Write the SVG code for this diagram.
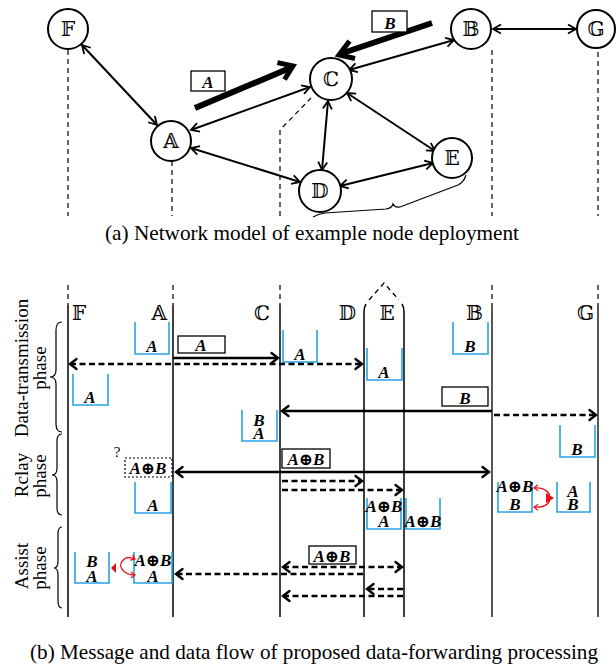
<svg xmlns="http://www.w3.org/2000/svg" width="616" height="670" viewBox="0 0 616 670">
<style>
.nc{fill:#fff;stroke:#000;stroke-width:2}
.nl{font-family:"DejaVu Serif","DejaVu Sans",serif;font-size:20px;text-anchor:middle;fill:#000}
.ll{font-family:"DejaVu Serif","DejaVu Sans",serif;font-size:20px;fill:#000}
.dl{stroke:#000;stroke-width:1.2;stroke-dasharray:5,4;fill:none}
.e{stroke:#000;stroke-width:2;fill:none;marker-start:url(#ah);marker-end:url(#ah)}
.thick{stroke:#000;stroke-width:6;fill:none}
.chev{stroke:#000;stroke-width:5;fill:none;stroke-linejoin:miter}
.lb{fill:#fff;stroke:#000;stroke-width:1.3}
.bi{font-family:"Liberation Serif","DejaVu Serif",serif;font-size:17px;font-weight:bold;font-style:italic;text-anchor:middle;fill:#000}
.cap{font-family:"Liberation Serif","Times New Roman",serif;font-size:21px;text-anchor:middle;fill:#000}
.ph{font-family:"Liberation Serif","Times New Roman",serif;font-size:19px;text-anchor:middle;fill:#000}
.life{stroke:#000;stroke-width:1.5;fill:none}
.lifeg{stroke:#444;stroke-width:1.8;fill:none}
.buf{stroke:#27a3e3;stroke-width:1.6;fill:none}
.sa{stroke:#000;stroke-width:2.5;fill:none}
.da{stroke:#000;stroke-width:2.5;fill:none;stroke-dasharray:6,3.5}
.brace{stroke:#000;stroke-width:1.2;fill:none}
.red{stroke:#e8101a;stroke-width:1.4;fill:none;marker-start:url(#ahr);marker-end:url(#ahr)}
</style>
<defs>
<marker id="ah" viewBox="-10 -6 12 12" refX="0" refY="0" markerWidth="12" markerHeight="12" markerUnits="userSpaceOnUse" orient="auto-start-reverse"><path d="M-8,-4.5 L0,0 L-8,4.5" fill="none" stroke="#000" stroke-width="1.8" stroke-dasharray="none"/></marker>
<marker id="ahb" viewBox="-10 -7 12 14" refX="0" refY="0" markerWidth="12" markerHeight="14" markerUnits="userSpaceOnUse" orient="auto-start-reverse"><path d="M-6.5,-5 L0,0 L-6.5,5" fill="none" stroke="#000" stroke-width="2.4" stroke-dasharray="none" stroke-linecap="round"/></marker>
<marker id="ahr" viewBox="-6 -4 8 8" refX="0" refY="0" markerWidth="8" markerHeight="8" markerUnits="userSpaceOnUse" orient="auto-start-reverse"><path d="M-4,-3 L0,0 L-4,3" fill="none" stroke="#e8101a" stroke-width="1.2" stroke-dasharray="none"/></marker>
</defs>
<rect width="616" height="670" fill="#fff"/>

<!-- ===== (a) network model ===== -->
<g id="a-dashed">
<line class="dl" x1="68" y1="50" x2="68" y2="216"/>
<line class="dl" x1="172" y1="161" x2="172" y2="216"/>
<polyline class="dl" points="280,216 280,130 311,98"/>
<line class="dl" x1="492" y1="50" x2="492" y2="216"/>
<line class="dl" x1="598" y1="52" x2="598" y2="216"/>
<path class="brace" d="M313,217 Q318,214 325,213 L386,209 Q392,208 393,204 Q395,208 400,207 L458,185 Q464,182 466,175"/>
</g>
<g id="a-connectors">
<line class="e" x1="82" y1="45" x2="157" y2="125"/>
<line class="e" x1="191" y1="130" x2="310" y2="87"/>
<line class="e" x1="349" y1="70" x2="454" y2="40"/>
<line class="e" x1="493" y1="29" x2="576" y2="29"/>
<line class="e" x1="328" y1="101" x2="322" y2="170"/>
<line class="e" x1="347" y1="93" x2="435" y2="151"/>
<line class="e" x1="191" y1="148" x2="300" y2="182"/>
<line class="e" x1="340" y1="186" x2="433" y2="163"/>
<line class="thick" x1="195" y1="108" x2="290" y2="68"/>
<polyline class="chev" points="277.4,62.6 293,66 284.5,79.5"/>
<line class="thick" x1="432" y1="23" x2="343" y2="53"/>
<polyline class="chev" points="349.5,41 339,55 355,58.5"/>
</g>
<g id="a-labels">
<rect class="lb" x="191" y="71" width="34" height="20"/>
<text class="bi" x="208" y="88">A</text>
<rect class="lb" x="372" y="11" width="35" height="21"/>
<text class="bi" x="390" y="29">B</text>
</g>
<g id="node-F"><circle class="nc" cx="68" cy="29" r="20"/><text class="nl" x="68" y="36">𝔽</text></g>
<g id="node-A"><circle class="nc" cx="171" cy="141" r="20"/><text class="nl" x="171" y="148">𝔸</text></g>
<g id="node-C"><circle class="nc" cx="331" cy="79" r="21"/><text class="nl" x="331" y="86">ℂ</text></g>
<g id="node-B"><circle class="nc" cx="471" cy="29" r="20"/><text class="nl" x="471" y="36">𝔹</text></g>
<g id="node-G"><circle class="nc" cx="596" cy="29" r="19"/><text class="nl" x="596" y="36">𝔾</text></g>
<g id="node-E"><circle class="nc" cx="452" cy="158" r="20"/><text class="nl" x="452" y="165">𝔼</text></g>
<g id="node-D"><circle class="nc" cx="320" cy="191" r="21"/><text class="nl" x="320" y="198">𝔻</text></g>
<text class="cap" x="312" y="240" textLength="414" lengthAdjust="spacingAndGlyphs">(a) Network model of example node deployment</text>

<!-- ===== (b) message flow ===== -->
<g id="lifelines">
<line class="dl" x1="68" y1="285" x2="68" y2="305"/><line class="life" x1="68" y1="305" x2="68" y2="617"/>
<line class="dl" x1="173" y1="285" x2="173" y2="305"/><line class="life" x1="173" y1="305" x2="173" y2="617"/>
<line class="dl" x1="280" y1="285" x2="280" y2="305"/><line class="life" x1="280" y1="305" x2="280" y2="617"/>
<path class="life" d="M364,617 L364,312 Q364,307 366,304"/>
<path class="life" d="M404,617 L404,312 Q404,307 402,304"/>
<polyline class="dl" points="369,300 384,283 399,300"/>
<line class="dl" x1="492" y1="285" x2="492" y2="305"/><line class="lifeg" x1="492" y1="305" x2="492" y2="617"/>
<line class="dl" x1="598" y1="285" x2="598" y2="305"/><line class="lifeg" x1="598" y1="305" x2="598" y2="617"/>
<text class="ll" x="72" y="320">𝔽</text>
<text class="ll" x="167" y="320" text-anchor="end">𝔸</text>
<text class="ll" x="270" y="320" text-anchor="end">ℂ</text>
<text class="ll" x="356" y="320" text-anchor="end">𝔻</text>
<text class="ll" x="387" y="320" text-anchor="middle">𝔼</text>
<text class="ll" x="483" y="320" text-anchor="end">𝔹</text>
<text class="ll" x="594" y="320" text-anchor="end">𝔾</text>
</g>
<g id="phases">
<path class="brace" d="M62,322 Q56,322 56,330 L56,370 Q56,377 50,377 Q56,377 56,384 L56,424 Q56,432 62,432"/>
<path class="brace" d="M62,434 Q57,434 57,441 L57,468 Q57,475 52,475 Q57,475 57,482 L57,508 Q57,515 62,515"/>
<path class="brace" d="M62,527 Q58,527 58,534 L58,561 Q58,568 54,568 Q58,568 58,575 L58,601 Q58,608 62,608"/>
<text class="ph" transform="translate(28,368) rotate(-90)">Data-transmission</text>
<text class="ph" transform="translate(46,368) rotate(-90)">phase</text>
<text class="ph" transform="translate(28,475) rotate(-90)">Rclay</text>
<text class="ph" transform="translate(46,476) rotate(-90)">phase</text>
<text class="ph" transform="translate(28,566) rotate(-90)">Assist</text>
<text class="ph" transform="translate(46,568) rotate(-90)">phase</text>
</g>
<g id="buffers">
<polyline class="buf" points="135,322 135,354 169,354 169,322"/><text class="bi" x="152" y="352">A</text>
<polyline class="buf" points="283,330 283,362 317,362 317,330"/><text class="bi" x="300" y="360">A</text>
<polyline class="buf" points="367,348 367,380 402,380 402,348"/><text class="bi" x="384" y="378">A</text>
<polyline class="buf" points="453,322 453,354 488,354 488,322"/><text class="bi" x="470" y="352">B</text>
<polyline class="buf" points="73,374 73,405 108,405 108,374"/><text class="bi" x="90" y="403">A</text>
<polyline class="buf" points="242,410 242,441 277,441 277,410"/><text class="bi" x="259" y="426">B</text><text class="bi" x="259" y="439">A</text>
<polyline class="buf" points="560,425 560,457 595,457 595,425"/><text class="bi" x="577" y="455">B</text>
<polyline class="buf" points="135,482 135,513 171,513 171,482"/><text class="bi" x="153" y="511">A</text>
<polyline class="buf" points="367,498 367,529 401,529 401,498"/><text class="bi" x="384" y="512">A⊕B</text><text class="bi" x="384" y="527">A</text>
<polyline class="buf" points="406,498 406,529 440,529 440,498"/><text class="bi" x="423" y="527">A⊕B</text>
<polyline class="buf" points="498,482 498,512 532,512 532,482"/><text class="bi" x="515" y="492">A⊕B</text><text class="bi" x="515" y="510">B</text>
<polyline class="buf" points="557,482 557,512 590,512 590,482"/><text class="bi" x="573" y="497">A</text><text class="bi" x="573" y="510">B</text>
<polyline class="buf" points="75,552 75,583 109,583 109,552"/><text class="bi" x="92" y="567">B</text><text class="bi" x="92" y="582">A</text>
<polyline class="buf" points="134,552 134,583 172,583 172,552"/><text class="bi" x="153" y="566">A⊕B</text><text class="bi" x="153" y="582">A</text>
</g>
<g id="b-connectors">
<line class="sa" x1="173" y1="358" x2="278" y2="358" marker-end="url(#ahb)"/>
<line class="da" x1="70" y1="364" x2="362" y2="364" marker-start="url(#ahb)" marker-end="url(#ahb)"/>
<line class="sa" x1="492" y1="411" x2="282" y2="411" marker-end="url(#ahb)"/>
<line class="da" x1="494" y1="415" x2="596" y2="415" marker-end="url(#ahb)"/>
<line class="sa" x1="176" y1="472" x2="489" y2="472" marker-start="url(#ahb)" marker-end="url(#ahb)"/>
<line class="da" x1="282" y1="481" x2="362" y2="481" marker-end="url(#ahb)"/>
<line class="da" x1="282" y1="490" x2="402" y2="490" marker-end="url(#ahb)"/>
<line class="da" x1="283" y1="567" x2="402" y2="567" marker-start="url(#ahb)" marker-end="url(#ahb)"/>
<line class="da" x1="363" y1="574" x2="176" y2="574" marker-end="url(#ahb)"/>
<line class="da" x1="403" y1="589" x2="367" y2="589" marker-end="url(#ahb)"/>
<line class="da" x1="403" y1="596" x2="283" y2="596" marker-end="url(#ahb)"/>
<path class="red" d="M534,488 C546,487 551,494 549,498 C551,502 546,508 534,507"/>
<polygon points="546,493 546,503 554,498" fill="#e8101a"/>
<path class="red" d="M135,559 C124,554 118,564 122,569 C125,574 130,575 135,575"/>
<polygon points="111,568 116,563 116,573" fill="#e8101a"/>
</g>
<g id="b-labels">
<rect class="lb" x="178" y="336" width="47" height="17"/><text class="bi" x="201" y="351">A</text>
<rect class="lb" x="442" y="387" width="46" height="19"/><text class="bi" x="465" y="404">B</text>
<rect class="lb" x="282" y="449" width="48" height="19"/><text class="bi" x="306" y="465">A⊕B</text>
<rect class="lb" x="309" y="546" width="47" height="18"/><text class="bi" x="332" y="562">A⊕B</text>
<rect x="125" y="458" width="47" height="19" fill="#fff" stroke="#000" stroke-width="1.2" stroke-dasharray="2,2"/><text class="bi" x="148" y="474">A⊕B</text>
<text x="117" y="457" font-family="Liberation Serif,serif" font-size="15" text-anchor="middle" fill="#000">?</text>
</g>
<text class="cap" x="314" y="659" textLength="568" lengthAdjust="spacingAndGlyphs">(b) Message and data flow of proposed data-forwarding processing</text>
</svg>
